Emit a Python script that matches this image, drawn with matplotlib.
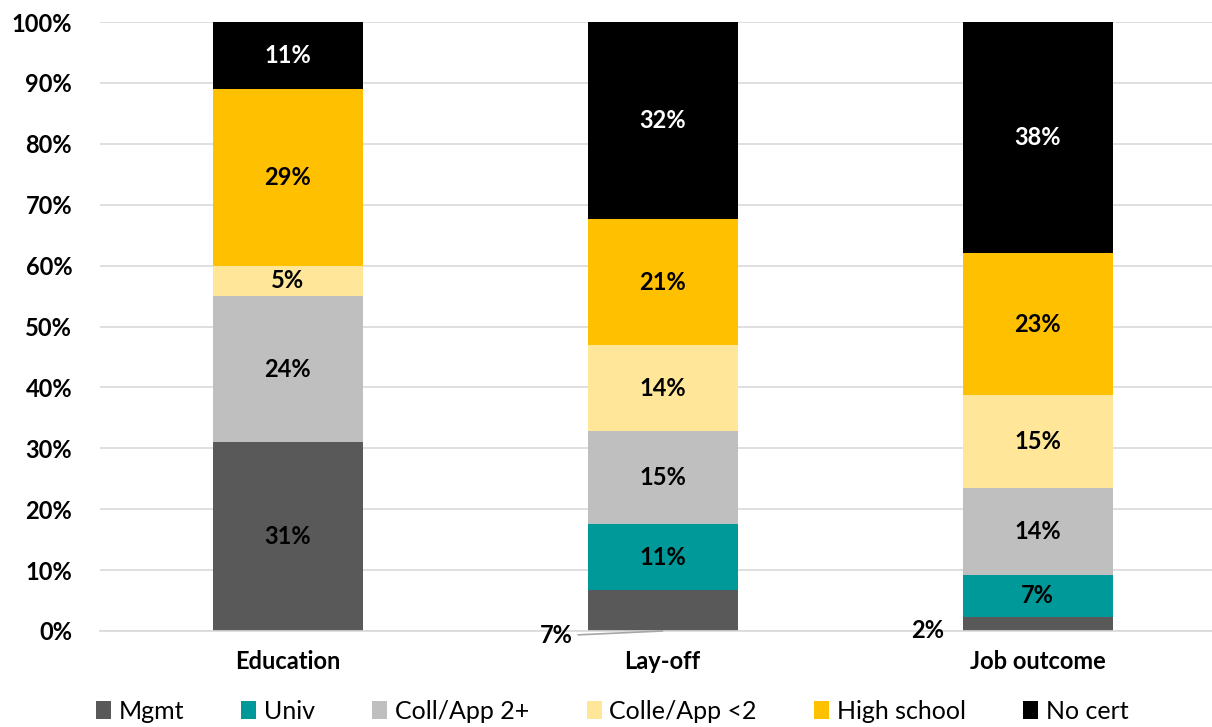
import numpy as np
import matplotlib
matplotlib.use("Agg")
import matplotlib.pyplot as plt

plt.rcParams["font.family"] = ["Lato", "DejaVu Sans"]

# data (shares in %)
categories = ["Education", "Lay-off", "Job outcome"]
series_names = ["Mgmt", "Univ", "Coll/App 2+", "Colle/App <2", "High school", "No cert"]
mgmt = [31.0, 6.7, 2.3]
univ = [0.0, 10.8, 6.9]
coll_2plus = [24.0, 15.3, 14.3]
colle_lt2 = [5.0, 14.2, 15.2]
high_school = [29.0, 20.6, 23.3]
no_cert = [11.0, 32.4, 38.0]

colors = ["#595959", "#009999", "#BFBFBF", "#FFE699", "#FFC000", "#000000"]
text_colors = ["black", "black", "black", "black", "black", "white"]

series = [mgmt, univ, coll_2plus, colle_lt2, high_school, no_cert]

fig = plt.figure(figsize=(12.12, 7.27), dpi=100)
ax = fig.add_axes([100 / 1212, 1 - 631 / 727, 1 - 100 / 1212, (631 - 22) / 727])

x = np.arange(len(categories))
width = 0.4
bottom = np.zeros(len(categories))
for k, (vals, name, col, tcol) in enumerate(zip(series, series_names, colors, text_colors)):
    vals = np.array(vals)
    ax.bar(x, vals, width, bottom=bottom, color=col, label=name, zorder=2)
    # small Mgmt shares get outside labels instead
    min_v = 10 if k == 0 else 1
    for i, v in enumerate(vals):
        if v >= min_v:
            ax.text(x[i], bottom[i] + v / 2, f"{v:.0f}%", ha="center", va="center",
                    color=tcol, fontsize=17, fontweight="bold", zorder=3)
    bottom += vals

ax.annotate(f"{mgmt[1]:.0f}%", xy=(x[1], 0), xytext=(x[1] - 0.24, -0.8),
            ha="right", va="center", fontsize=17, fontweight="bold",
            annotation_clip=False,
            arrowprops=dict(arrowstyle="-", color="#A6A6A6", lw=1.2,
                            shrinkA=2, shrinkB=0))
ax.text(x[2] - 0.25, 0, f"{mgmt[2]:.0f}%", ha="right", va="center",
        fontsize=17, fontweight="bold")

ax.set_ylim(0, 100)
ax.set_xlim(-0.5, 2.465)
ax.set_yticks(np.arange(0, 101, 10))
ax.set_yticklabels([f"{t}%" for t in range(0, 101, 10)])
ax.set_xticks(x)
ax.set_xticklabels(categories)
for lab in ax.get_yticklabels() + ax.get_xticklabels():
    lab.set_fontsize(17)
    lab.set_fontweight("bold")
ax.tick_params(axis="both", length=0)
ax.tick_params(axis="y", pad=20)
ax.tick_params(axis="x", pad=14)
ax.yaxis.grid(True, color="#D9D9D9", lw=1.2, zorder=0)
ax.set_axisbelow(True)
for s in ["top", "right", "left"]:
    ax.spines[s].set_visible(False)
ax.spines["bottom"].set_color("#D9D9D9")
ax.spines["bottom"].set_linewidth(1.2)

fig.legend(loc="center", bbox_to_anchor=(0.505, 0.022), ncol=6, frameon=False,
           fontsize=18, handlelength=0.6, handleheight=0.7, handletextpad=0.3,
           columnspacing=2.3, borderpad=0.1)

fig.savefig("out.png", dpi=100)
